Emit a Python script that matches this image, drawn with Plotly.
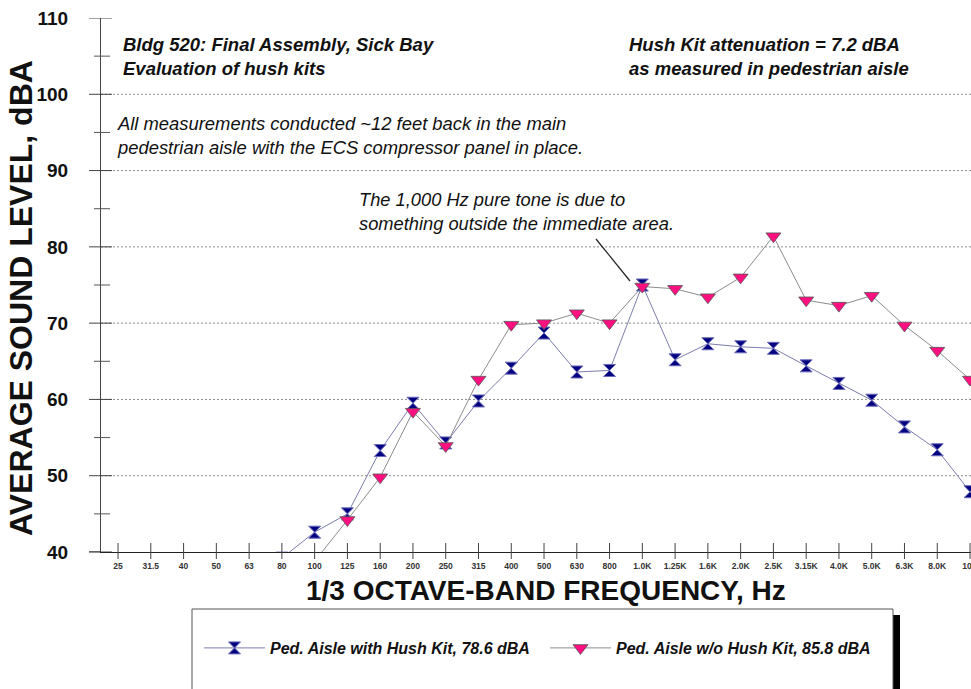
import plotly.graph_objects as go

# ---------------- data ----------------
CATEGORIES = ["25", "31.5", "40", "50", "63", "80", "100", "125", "160", "200",
              "250", "315", "400", "500", "630", "800", "1.0K", "1.25K", "1.6K",
              "2.0K", "2.5K", "3.15K", "4.0K", "5.0K", "6.3K", "8.0K", "10K"]

WITH_KIT = [None, None, None, None, None, 39.2, 42.6, 45.0, 53.3, 59.5,
            54.3, 59.8, 64.1, 68.7, 63.6, 63.8, 75.0, 65.2, 67.3,
            66.9, 66.7, 64.4, 62.1, 59.9, 56.4, 53.4, 47.9]

WITHOUT_KIT = [None, None, None, None, None, None, 38.8, 44.2, 49.8, 58.4,
               53.9, 62.6, 69.8, 70.0, 71.3, 70.0, 74.8, 74.5, 73.4,
               76.0, 81.4, 73.0, 72.3, 73.6, 69.7, 66.4, 62.6]

SERIES_NAMES = ["Ped. Aisle with Hush Kit, 78.6 dBA", "Ped. Aisle w/o Hush Kit, 85.8 dBA"]
Y_MAJOR = [40, 50, 60, 70, 80, 90, 100, 110]
Y_MINOR = [45, 55, 65, 75, 85, 95, 105]
GRID_LEVELS = [50, 60, 70, 80, 90, 100]

FONT = "Liberation Sans, Arial, sans-serif"
W, H = 971, 689
ML, MR, MT, MB = 101, 0, 18, 137
PW = W - ML - MR
PH = H - MT - MB


def px_x(p):
    return (p - ML) / PW


def px_y(p):
    return (H - MB - p) / PH


fig = go.Figure()

fig.add_trace(go.Scatter(
    x=CATEGORIES, y=WITH_KIT, name=SERIES_NAMES[0], mode="lines+markers",
    legend="legend",
    line=dict(color="#7c7cb0", width=1),
    marker=dict(symbol="hourglass", size=12, color="#000080",
                line=dict(color="#6a6ab8", width=1)),
))
fig.add_trace(go.Scatter(
    x=CATEGORIES, y=WITHOUT_KIT, name=SERIES_NAMES[1], mode="lines+markers",
    legend="legend2",
    line=dict(color="#8c8c8c", width=1),
    marker=dict(symbol="triangle-down", size=13, color="#ff1080",
                line=dict(color="#555555", width=0.8)),
))

shapes = []
# dotted horizontal grid
for g in GRID_LEVELS:
    shapes.append(dict(type="line", xref="paper", yref="y", x0=0, x1=1.01, y0=g, y1=g,
                       line=dict(color="#8a8a8a", width=1, dash="2px,2px"), layer="below"))
# y ticks crossing axis
for v in Y_MAJOR:
    shapes.append(dict(type="line", xref="paper", yref="y", x0=px_x(89), x1=px_x(112),
                       y0=v, y1=v, line=dict(color="#444444", width=1)))
for v in Y_MINOR:
    shapes.append(dict(type="line", xref="paper", yref="y", x0=px_x(94), x1=px_x(110),
                       y0=v, y1=v, line=dict(color="#555555", width=1)))
# x ticks crossing axis
for i, _ in enumerate(CATEGORIES):
    shapes.append(dict(type="line", xref="x", yref="paper", x0=i, x1=i,
                       y0=px_y(559), y1=px_y(543), line=dict(color="#444444", width=1)))
# x axis line extending left of y axis
shapes.append(dict(type="line", xref="paper", yref="paper", x0=px_x(89), x1=0,
                   y0=0, y1=0, line=dict(color="#222222", width=1)))
# annotation pointer line
shapes.append(dict(type="line", xref="paper", yref="paper", x0=px_x(596), y0=px_y(239),
                   x1=px_x(630), y1=px_y(281), line=dict(color="#222222", width=1.2)))
# legend box and shadow
shapes.append(dict(type="rect", xref="paper", yref="paper", x0=px_x(900), x1=px_x(893),
                   y0=px_y(615), y1=px_y(720), fillcolor="#000000", line=dict(width=0)))
shapes.append(dict(type="rect", xref="paper", yref="paper", x0=px_x(192), x1=px_x(893),
                   y0=px_y(609), y1=px_y(720), fillcolor="rgba(0,0,0,0)",
                   line=dict(color="#555555", width=1)))

annotations = [
    dict(text="<b><i>Bldg 520: Final Assembly, Sick Bay<br>Evaluation of hush kits</i></b>",
         x=px_x(121), y=px_y(56.5), xanchor="left", yanchor="middle", align="left",
         font=dict(size=18.5, color="#111111")),
    dict(text="<b><i>Hush Kit attenuation = 7.2 dBA<br>as measured in pedestrian aisle</i></b>",
         x=px_x(627), y=px_y(56.5), xanchor="left", yanchor="middle", align="left",
         font=dict(size=18.5, color="#111111")),
    dict(text="<i>All measurements conducted ~12 feet back in the main<br>"
              "pedestrian aisle with the ECS compressor panel in place.</i>",
         x=px_x(115), y=px_y(135), xanchor="left", yanchor="middle", align="left",
         font=dict(size=18.4, color="#111111")),
    dict(text="<i>The 1,000 Hz pure tone is due to<br>something outside the immediate area.</i>",
         x=px_x(357), y=px_y(211), xanchor="left", yanchor="middle", align="left",
         font=dict(size=18.3, color="#111111")),
    dict(text="<b>1/3 OCTAVE-BAND FREQUENCY, Hz</b>",
         x=px_x(546), y=px_y(590), xanchor="center", yanchor="middle",
         font=dict(size=28, color="#111111")),
    dict(text="<b>AVERAGE SOUND LEVEL, dBA</b>", textangle=-90,
         x=px_x(21), y=px_y(298), xanchor="center", yanchor="middle",
         font=dict(size=32, color="#111111")),
]
for a in annotations:
    a.update(xref="paper", yref="paper", showarrow=False)
    a["font"]["family"] = FONT

legend_common = dict(orientation="h", yanchor="middle", xanchor="left",
                     bgcolor="rgba(0,0,0,0)", borderwidth=0, itemwidth=61,
                     font=dict(family=FONT, size=16, color="#111111",
                               weight="bold", style="italic"))

fig.update_layout(
    width=W, height=H, autosize=False,
    margin=dict(l=ML, r=MR, t=MT, b=MB, pad=0, autoexpand=False),
    paper_bgcolor="white", plot_bgcolor="white",
    font=dict(family=FONT, color="#111111"),
    shapes=shapes, annotations=annotations,
    showlegend=True,
    legend=dict(x=px_x(199), y=px_y(648), **legend_common),
    legend2=dict(x=px_x(545), y=px_y(648), **legend_common),
    xaxis=dict(type="category", categoryorder="array", categoryarray=CATEGORIES,
               range=[-0.52, 26.03], showgrid=False, zeroline=False, automargin=False,
               showline=True, linecolor="#222222", linewidth=1, ticks="",
               tickfont=dict(family=FONT, size=8.5, color="#333333", weight="bold"),
               ticklabelstandoff=6, fixedrange=True),
    yaxis=dict(range=[40, 110], tickvals=Y_MAJOR, showgrid=False, zeroline=False,
               automargin=False,
               showline=True, linecolor="#444444", linewidth=1, ticks="",
               tickfont=dict(family=FONT, size=19, color="#111111", weight="bold"),
               ticklabelstandoff=28, fixedrange=True),
)

fig.write_html("out.html", config={"displayModeBar": False},
               post_script="document.body.style.margin='0px';")
